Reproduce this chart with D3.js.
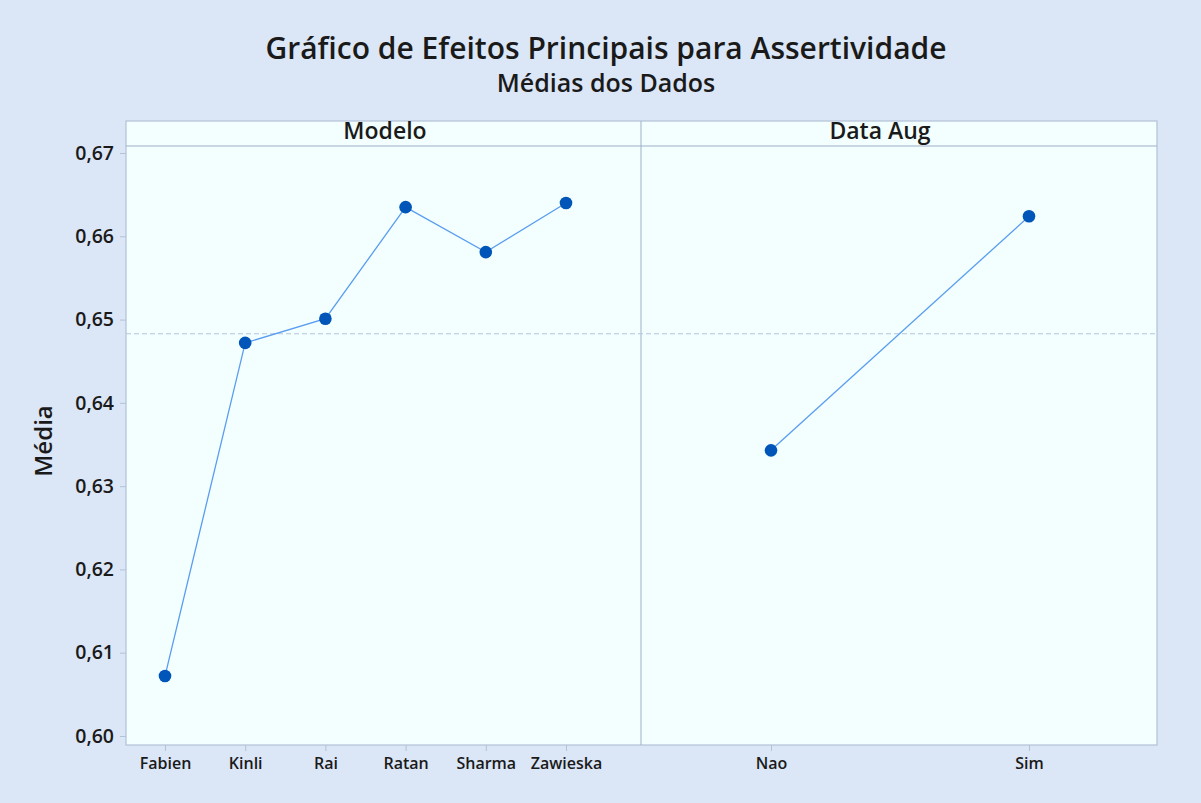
<!DOCTYPE html>
<html>
<head>
<meta charset="utf-8">
<script src="https://cdn.jsdelivr.net/npm/d3@7"></script>
<style>
  body { margin: 0; background: #dbe6f6; }
  text { font-family: "Open Sans", "Noto Sans", sans-serif; fill: #1a1a1a; }
</style>
</head>
<body>
<svg id="chart"></svg>
<script>
// dados
const modelos = ["Fabien", "Kinli", "Rai", "Ratan", "Sharma", "Zawieska"]
const mediasModelo = [0.6072, 0.6472, 0.6501, 0.6635, 0.6581, 0.6640]
const dataAug = ["Nao", "Sim"]
const mediasAug = [0.6343, 0.6624]
const mediaGeral = 0.6483
const yTicks = [0.60, 0.61, 0.62, 0.63, 0.64, 0.65, 0.66, 0.67]

const width = 1201, height = 803

const svg = d3.select("#chart")
    .attr("width", width)
    .attr("height", height)

svg.append("rect").attr("width", width).attr("height", height).attr("fill", "#dbe6f6")

// zones des panneaux
const pLeft = 126, pRight = 1157, pTop = 121, pBottom = 745, pMid = 641, strip = 25

const y = d3.scaleLinear().domain([0.60, 0.67]).range([736, 153])
const x1 = d3.scalePoint().domain(modelos).range([165, 566])
const x2 = d3.scalePoint().domain(dataAug).range([771, 1029])

const fmt = d => d3.format(".2f")(d).replace(".", ",")

// fond
svg.append("rect")
    .attr("x", pLeft).attr("y", pTop)
    .attr("width", pRight - pLeft).attr("height", pBottom - pTop)
    .attr("fill", "#f2fffe")
    .attr("stroke", "#b3c2d8").attr("stroke-width", 1.2)

svg.append("line")
    .attr("x1", pLeft).attr("x2", pRight).attr("y1", pTop + strip).attr("y2", pTop + strip)
    .attr("stroke", "#9fb0c8")
svg.append("line")
    .attr("x1", pMid).attr("x2", pMid).attr("y1", pTop).attr("y2", pBottom)
    .attr("stroke", "#9fb0c8")

// titres des panneaux
svg.append("text").attr("x", 385).attr("y", pTop + 18)
    .attr("text-anchor", "middle").attr("font-size", 23).attr("font-weight", 600)
    .text("Modelo")
svg.append("text").attr("x", 880).attr("y", pTop + 18)
    .attr("text-anchor", "middle").attr("font-size", 23).attr("font-weight", 600)
    .text("Data Aug")

// ligne moyenne
svg.append("line")
    .attr("x1", pLeft).attr("x2", pRight)
    .attr("y1", y(mediaGeral)).attr("y2", y(mediaGeral))
    .attr("stroke", "#b4c6e0").attr("stroke-width", 1.2)
    .attr("stroke-dasharray", "5,3")

// axe Y
const yAxis = svg.append("g")
    .attr("transform", `translate(${pLeft},0)`)
    .call(d3.axisLeft(y).tickValues(yTicks).tickFormat(fmt).tickSize(6).tickPadding(6))
yAxis.select(".domain").remove()
yAxis.selectAll(".tick line").attr("stroke", "#b3c2d8")
yAxis.selectAll(".tick text").attr("font-size", 19.5).attr("font-weight", 600).attr("fill", "#1a1a1a")

// axes X
function xAxis(scale) {
    const g = svg.append("g")
        .attr("transform", `translate(0,${pBottom})`)
        .call(d3.axisBottom(scale).tickSize(6).tickPadding(7))
    g.select(".domain").remove()
    g.selectAll(".tick line").attr("stroke", "#b3c2d8")
    g.selectAll(".tick text").attr("font-size", 16).attr("font-weight", 600).attr("fill", "#1a1a1a")
}
xAxis(x1)
xAxis(x2)

// séries
function serie(scale, cats, vals) {
    const pts = cats.map((c, i) => [scale(c), y(vals[i])])
    svg.append("path")
        .attr("d", d3.line()(pts))
        .attr("fill", "none")
        .attr("stroke", "#5a9cf0")
        .attr("stroke-width", 1.3)
    svg.selectAll(null).data(pts).enter().append("circle")
        .attr("cx", d => d[0]).attr("cy", d => d[1])
        .attr("r", 6.3)
        .attr("fill", "#0055b8")
}
serie(x1, modelos, mediasModelo)
serie(x2, dataAug, mediasAug)

// titre
svg.append("text").attr("x", 606).attr("y", 59)
    .attr("text-anchor", "middle").attr("font-size", 30).attr("font-weight", 600)
    .text("Gráfico de Efeitos Principais para Assertividade")
svg.append("text").attr("x", 606).attr("y", 92)
    .attr("text-anchor", "middle").attr("font-size", 25).attr("font-weight", 600)
    .text("Médias dos Dados")

svg.append("text")
    .attr("transform", "translate(52,441) rotate(-90)")
    .attr("text-anchor", "middle").attr("font-size", 24).attr("font-weight", 600)
    .text("Média")
</script>
</body>
</html>
